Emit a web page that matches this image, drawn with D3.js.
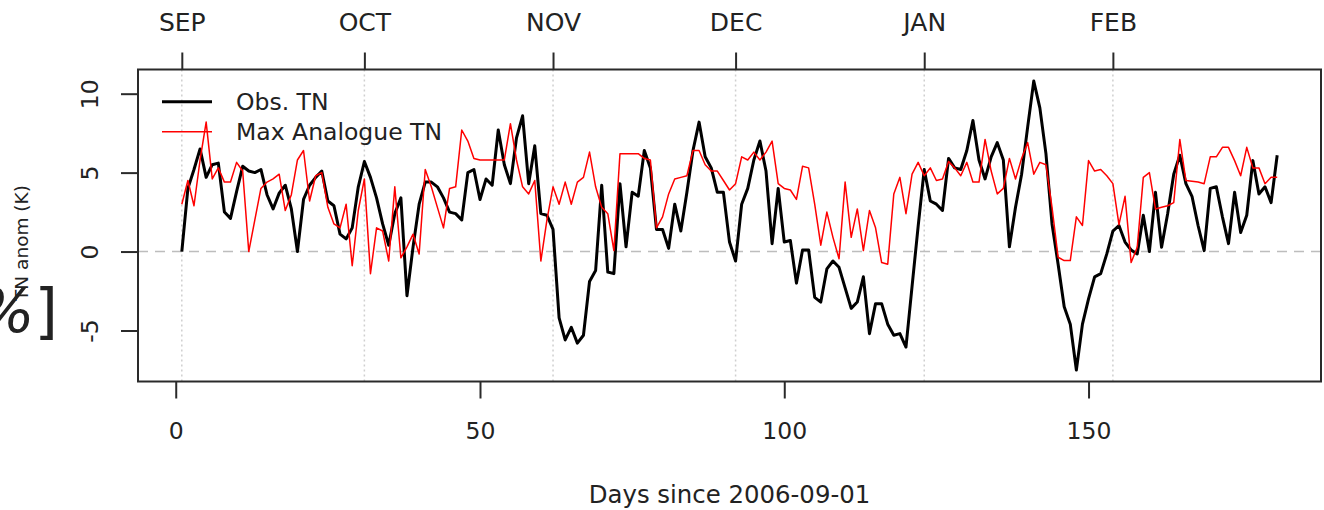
<!DOCTYPE html>
<html>
<head>
<meta charset="utf-8">
<script src="https://cdn.jsdelivr.net/npm/d3@7"></script>
<style>
  body { margin: 0; background: #fff; }
  svg { display: block; }
  text { font-family: "DejaVu Sans", sans-serif; fill: #222; }
</style>
</head>
<body>
<script>
// Observed TN anomaly, one value per day from 2006-09-01
const obsTN = [
  0, 4.0, 5.2, 6.5, 4.7, 5.5, 5.6, 2.5, 2.1, 3.8,
  5.4, 5.1, 5.0, 5.2, 3.6, 2.7, 3.7, 4.2, 2.7, 0.0,
  3.3, 4.2, 4.7, 5.1, 3.2, 2.9, 1.1, 0.8, 1.5, 4.1,
  5.7, 4.7, 3.4, 1.75, 0.4, 2.4, 3.4, -2.8, 0.3, 3.0,
  4.4, 4.4, 4.1, 3.4, 2.5, 2.4, 2.0, 5.0, 5.2, 3.3,
  4.6, 4.2, 7.7, 5.5, 4.3, 7.2, 8.6, 4.3, 6.7, 2.4,
  2.3, 1.4, -4.2, -5.6, -4.8, -5.8, -5.3, -1.9, -1.2, 4.2,
  -1.3, -1.4, 4.3, 0.3, 3.75, 3.5, 6.4, 5.3, 1.4, 1.4,
  0.2, 3.0, 1.3, 3.75, 6.4, 8.2, 6.0, 5.3, 3.75, 3.75,
  0.6, -0.6, 3.0, 4.0, 5.8, 7.0, 5.1, 0.5, 4.0, 0.6,
  0.7, -2.0, 0.1, 0.1, -2.9, -3.2, -1.1, -0.6, -1.0, -2.3,
  -3.6, -3.2, -1.6, -5.2, -3.3, -3.3, -4.6, -5.3, -5.2, -6.05,
  -2.2, 1.6, 5.2, 3.2, 3.0, 2.6, 5.9, 5.3, 5.2, 6.4,
  8.3, 5.8, 4.6, 6.0, 6.9, 5.8, 0.3, 2.8, 4.9, 7.9,
  10.8, 9.1, 6.2, 1.75, -0.8, -3.5, -4.6, -7.5, -4.6, -3.0,
  -1.6, -1.4, -0.15, 1.3, 1.65, 0.6, 0.1, -0.15, 2.3, 0.0,
  3.75, 0.27, 2.4, 4.9, 6.1, 4.3, 3.5, 1.65, 0.06, 4.0,
  4.1, 2.2, 0.5, 3.75, 1.2, 2.3, 5.76, 3.65, 4.1, 3.1,
  6.1
];

// Max analogue TN anomaly, same days
const analogTN = [
  3.0, 4.5, 2.9, 5.8, 8.2, 4.6, 5.3, 4.4, 4.4, 5.65,
  5.1, 0.0, 2.0, 4.0, 4.4, 4.6, 4.9, 2.6, 3.6, 5.8,
  6.4, 3.2, 4.8, 5.0, 2.8, 1.75, 1.5, 3.0, -0.9, 2.6,
  4.6, -1.4, 1.5, 1.3, -0.6, 4.1, -0.4, 0.3, 1.1, -0.15,
  5.2, 4.1, 2.8, 1.5, 4.0, 4.1, 7.7, 7.0, 5.9, 5.8,
  5.8, 5.8, 5.8, 5.8, 8.1, 5.8, 4.1, 3.65, 4.5, -0.6,
  2.0, 4.1, 3.0, 4.4, 3.0, 4.4, 4.7, 6.3, 4.1, 2.8,
  2.4, 0.06, 6.2, 6.2, 6.2, 6.2, 5.9, 5.8, 1.5, 2.2,
  3.65, 4.6, 4.7, 4.8, 6.4, 6.4, 5.5, 5.1, 5.1, 4.5,
  3.9, 4.3, 6.0, 5.8, 6.3, 5.8, 6.3, 7.0, 4.3, 4.0,
  3.9, 3.3, 5.4, 5.3, 3.0, 0.4, 2.5, 0.9, -0.46, 4.4,
  0.9, 2.7, 0.06, 2.6, 1.5, -0.7, -0.8, 3.65, 4.7, 2.4,
  4.9, 5.65, 4.8, 5.3, 4.5, 4.6, 5.7, 5.3, 4.8, 5.65,
  4.4, 4.4, 7.1, 5.1, 3.65, 4.0, 5.9, 4.6, 5.9, 6.9,
  4.9, 5.65, 5.5, 2.8, -0.36, -0.57, -0.57, 2.2, 1.65, 5.76,
  5.1, 5.2, 4.8, 4.3, 1.7, 3.5, -0.7, 0.27, 4.7, 5.0,
  2.7, 2.8, 2.9, 3.1, 7.1, 4.5, 4.45, 4.4, 4.3, 6.0,
  6.0, 6.6, 6.6, 5.76, 4.8, 6.6, 5.3, 5.3, 4.3, 4.7,
  4.7
];

const monthDays = [1, 31, 62, 92, 123, 154]; // first day of each month
const monthLabels = ["SEP", "OCT", "NOV", "DEC", "JAN", "FEB"];
const xTicks = [0, 50, 100, 150];
const yTicks = [-5, 0, 5, 10];
const legendLabels = ["Obs. TN", "Max Analogue TN"];
const seriesColours = ["#000", "#ff0000"];

const svgWidth = 1324;
const svgHeight = 510;
const box = { left: 138, right: 1321, top: 69.5, bottom: 381.5 }; // plot frame
const fontSize = 23.5;

const days = obsTN.map(function(v, i) { return i + 1; }); // day index

// R style axis limits: data range padded by 4%
function pad(ext) {
  const p = (ext[1] - ext[0]) * 0.04;
  return [ext[0] - p, ext[1] + p];
}

const xScale = d3.scaleLinear()
  .domain(pad(d3.extent(days)))
  .range([box.left, box.right]);

const yScale = d3.scaleLinear()
  .domain(pad(d3.extent(obsTN.concat(analogTN))))
  .range([box.bottom, box.top]);

const svg = d3.select("body").append("svg")
  .attr("width", svgWidth)
  .attr("height", svgHeight);

svg.append("rect")
  .attr("width", svgWidth)
  .attr("height", svgHeight)
  .attr("fill", "#fff");

// dotted month grid lines
svg.append("g").selectAll("line")
  .data(monthDays)
  .enter().append("line")
  .attr("x1", function(d) { return xScale(d); })
  .attr("x2", function(d) { return xScale(d); })
  .attr("y1", box.top)
  .attr("y2", box.bottom)
  .attr("stroke", "#cfcfcf")
  .attr("stroke-width", 1.5)
  .attr("stroke-dasharray", "2,3");

// dashed zero line
svg.append("line")
  .attr("x1", box.left)
  .attr("x2", box.right)
  .attr("y1", yScale(0))
  .attr("y2", yScale(0))
  .attr("stroke", "#bdbdbd")
  .attr("stroke-width", 1.5)
  .attr("stroke-dasharray", "10,7");

const line = d3.line()
  .x(function(d, i) { return xScale(days[i]); })
  .y(function(d) { return yScale(d); });

svg.append("path") //observed
  .datum(obsTN)
  .attr("d", line)
  .attr("fill", "none")
  .attr("stroke", seriesColours[0])
  .attr("stroke-width", 3)
  .attr("stroke-linejoin", "round");

svg.append("path") //analogue
  .datum(analogTN)
  .attr("d", line)
  .attr("fill", "none")
  .attr("stroke", seriesColours[1])
  .attr("stroke-width", 1.5)
  .attr("stroke-linejoin", "round");

// frame
svg.append("rect")
  .attr("x", box.left)
  .attr("y", box.top)
  .attr("width", box.right - box.left)
  .attr("height", box.bottom - box.top)
  .attr("fill", "none")
  .attr("stroke", "#2a2a2a")
  .attr("stroke-width", 2);

// axes (the frame stands in for the axis lines)
const plainNum = function(d) { return String(d); }; // keep ascii hyphen like R
const xAxis = d3.axisBottom(xScale).tickValues(xTicks).tickFormat(plainNum)
  .tickSize(17).tickSizeOuter(0).tickPadding(24);
const yAxis = d3.axisLeft(yScale).tickValues(yTicks).tickFormat(plainNum)
  .tickSize(17).tickSizeOuter(0);
const topAxis = d3.axisTop(xScale).tickValues(monthDays).tickSize(17).tickSizeOuter(0).tickPadding(22)
  .tickFormat(function(d, i) { return monthLabels[i]; });

function styleAxis(g) {
  g.select(".domain").remove();
  g.selectAll(".tick line").attr("stroke", "#2a2a2a").attr("stroke-width", 2);
  g.selectAll("text").attr("font-family", "DejaVu Sans").attr("font-size", fontSize).attr("fill", "#222");
}

svg.append("g")
  .attr("transform", "translate(0," + box.bottom + ")")
  .call(xAxis)
  .call(styleAxis);

svg.append("g")
  .attr("transform", "translate(0," + box.top + ")")
  .call(topAxis)
  .call(styleAxis)
  .selectAll("text")
  .attr("font-size", 25);

const yG = svg.append("g")
  .attr("transform", "translate(" + box.left + ",0)")
  .call(yAxis)
  .call(styleAxis);

yG.selectAll(".tick text") // R draws y labels parallel to the axis
  .attr("transform", "rotate(-90)")
  .attr("x", 0)
  .attr("y", -40)
  .attr("dy", 0)
  .attr("text-anchor", "middle");

// axis titles
svg.append("text")
  .attr("x", (box.left + box.right) / 2)
  .attr("y", 503)
  .attr("text-anchor", "middle")
  .attr("font-size", 24.4)
  .text("Days since 2006-09-01");

svg.append("text")
  .attr("transform", "translate(28,243) rotate(-90)")
  .attr("text-anchor", "middle")
  .attr("font-size", 18.5)
  .text("TN anom (K)");

// stray unit label overlapping the y title
svg.append("text")
  .attr("x", 58)
  .attr("y", 332)
  .attr("text-anchor", "end")
  .attr("font-family", "Liberation Serif")
  .attr("font-size", 60)
  .attr("fill", "#000")
  .html('<tspan font-style="italic">%</tspan>]');

// legend
const legend = svg.append("g");
legendLabels.forEach(function(lab, i) {
  const ly = 101.7 + i * 30;
  legend.append("line")
    .attr("x1", 162).attr("x2", 212)
    .attr("y1", ly).attr("y2", ly)
    .attr("stroke", seriesColours[i])
    .attr("stroke-width", i === 0 ? 3 : 1.5);
  legend.append("text")
    .attr("x", 236)
    .attr("y", ly + 8.5)
    .attr("font-size", fontSize)
    .text(lab);
});
</script>
</body>
</html>
